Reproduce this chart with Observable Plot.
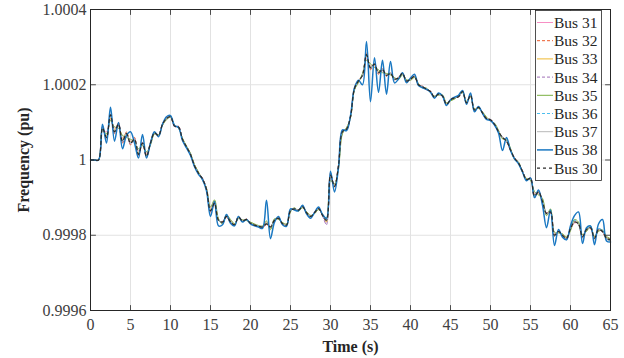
<!DOCTYPE html>
<html><head><meta charset="utf-8">
<script src="https://cdn.jsdelivr.net/npm/d3@7"></script>
<script src="https://cdn.jsdelivr.net/npm/@observablehq/plot@0.6"></script>
<style>body{margin:0;background:#fff}#chart{width:624px;height:358px}</style>
</head><body><div id="chart"></div>
<script>
// Series names, colours, dash styles (draw order: 31..38, then 30 on top)
const busNames = ["Bus 31","Bus 32","Bus 33","Bus 34","Bus 35","Bus 36","Bus 37","Bus 38","Bus 30"];
const busColors = ["#f78fc4","#ec5a2a","#efb830","#a070b8","#7ab040","#4dbeee","#b8b8b8","#1a78c2","#2a2a2a"];
const busDashes = [null,"3,2",null,"3,2",null,"3,2",null,null,"3,3"];
const busWidths = [1,1,1,1,1,1,1,1.5,1.2];

// Sample times (s)
const time = d3.range(0, 65.25, 0.5);

// Frequency deviation from 1 pu, in micro-pu (1e-6 pu), one value per sample time
const bus31 = [
0,0,0,80,75,110,85,90,60,65,
50,50,25,40,18,42,70,66,93,108,
114,92,86,57,36,17,-13,-33,-52,-76,
-128,-108,-158,-168,-148,-160,-170,-155,-160,-160,
-166,-171,-175,-176,-165,-182,-158,-157,-167,-171,
-137,-128,-135,-126,-138,-148,-142,-131,-145,-158,
-50,-66,-18,72,84,113,188,208,228,270,
250,250,236,236,228,228,217,216,228,212,
213,220,202,193,190,180,169,173,172,150,
158,163,170,180,154,170,135,138,127,112,
105,97,77,58,52,29,3,-6,-32,-50,
-52,-88,-90,-105,-145,-140,-195,-192,-198,-206,
-185,-168,-168,-200,-188,-178,-205,-188,-188,-205,
-210];
const bus32 = [
0,0,0,88,55,118,70,100,45,75,
40,60,12,48,8,47,73,64,96,111,
116,89,89,54,34,14,-16,-36,-49,-79,
-138,-118,-162,-163,-152,-166,-173,-150,-163,-157,
-169,-174,-177,-179,-172,-176,-162,-153,-170,-174,
-133,-131,-132,-123,-141,-151,-139,-128,-148,-162,
-35,-72,-12,78,80,117,192,212,222,285,
240,258,228,244,222,233,213,220,232,208,
216,223,199,196,187,183,166,176,169,147,
161,166,167,183,151,173,132,141,124,109,
108,94,74,61,49,26,6,-9,-29,-53,
-47,-100,-82,-114,-140,-136,-203,-188,-202,-210,
-180,-162,-172,-207,-183,-182,-210,-183,-192,-210,
-214];
const bus33 = [
0,0,0,82,65,112,80,92,55,72,
48,52,20,42,14,44,71,66,94,109,
114,91,87,56,36,16,-14,-34,-51,-77,
-132,-113,-159,-166,-149,-163,-171,-153,-161,-159,
-167,-172,-176,-177,-168,-180,-159,-156,-168,-172,
-136,-129,-134,-125,-139,-149,-141,-130,-146,-165,
-45,-68,-16,74,83,114,189,209,226,276,
248,252,234,238,226,229,216,217,229,211,
214,221,201,194,189,181,168,174,171,149,
159,164,169,181,153,171,134,139,126,111,
106,96,76,59,51,28,4,-7,-31,-51,
-50,-92,-87,-108,-143,-137,-198,-191,-199,-207,
-183,-166,-169,-203,-186,-179,-207,-186,-189,-207,
-211];
const bus34 = [
0,0,0,87,58,122,72,97,48,72,
42,57,12,47,8,47,74,67,97,112,
117,88,90,53,33,13,-17,-37,-48,-80,
-137,-117,-161,-164,-151,-165,-173,-151,-163,-157,
-169,-174,-177,-179,-171,-177,-161,-154,-170,-174,
-134,-131,-132,-123,-141,-151,-139,-128,-148,-172,
-38,-71,-14,76,81,116,191,211,224,282,
243,256,231,241,224,231,214,219,231,209,
216,223,199,196,187,183,166,176,169,147,
161,166,167,183,151,173,132,141,124,109,
108,94,74,61,49,26,6,-9,-29,-53,
-48,-96,-84,-112,-141,-139,-201,-189,-201,-209,
-181,-164,-171,-205,-184,-181,-209,-184,-191,-209,
-213];
const bus35 = [
0,0,0,78,70,105,88,85,65,60,
55,48,30,38,22,40,69,67,92,107,
113,93,85,58,37,18,-12,-32,-53,-75,
-125,-106,-156,-170,-146,-158,-169,-156,-159,-161,
-165,-170,-174,-175,-162,-185,-156,-158,-166,-170,
-138,-127,-136,-127,-137,-147,-143,-132,-144,-155,
-55,-63,-22,70,86,112,186,206,230,265,
255,246,240,232,230,226,219,214,226,214,
212,219,203,192,191,179,170,172,173,152,
157,162,171,179,156,168,136,137,128,114,
104,98,79,56,54,31,2,-5,-33,-49,
-54,-84,-93,-102,-148,-130,-192,-194,-196,-204,
-188,-158,-165,-198,-190,-176,-203,-190,-186,-203,
-209];
const bus36 = [
0,0,0,84,62,117,76,94,52,68,
46,54,17,44,12,44,72,65,95,110,
115,90,88,55,35,15,-15,-35,-50,-78,
-134,-114,-160,-166,-150,-163,-172,-152,-162,-158,
-168,-173,-176,-178,-169,-179,-160,-155,-169,-173,
-135,-130,-133,-124,-140,-150,-140,-129,-147,-161,
-42,-69,-15,75,82,115,190,210,225,279,
246,254,233,239,225,230,215,218,230,210,
215,222,200,195,188,182,167,175,170,148,
160,165,168,182,152,172,133,140,125,110,
107,95,75,60,50,27,5,-8,-30,-52,
-49,-94,-86,-110,-143,-137,-202,-189,-201,-212,
-180,-160,-172,-205,-184,-176,-210,-182,-187,-210,
-214];
const bus37 = [
0,0,0,86,57,121,73,96,49,71,
44,56,14,46,9,46,73,65,95,110,
115,90,88,55,35,15,-15,-35,-50,-78,
-136,-116,-160,-165,-150,-164,-172,-152,-162,-158,
-168,-173,-176,-178,-170,-178,-160,-155,-169,-173,
-135,-130,-133,-124,-140,-150,-140,-129,-147,-160,
-40,-70,-15,75,82,115,190,210,225,281,
244,256,231,241,224,231,215,218,230,210,
215,222,200,195,188,182,167,175,170,148,
160,165,168,182,152,172,133,140,125,110,
107,95,75,60,50,27,5,-8,-30,-52,
-49,-95,-85,-110,-142,-138,-200,-190,-200,-208,
-182,-165,-170,-204,-185,-180,-208,-185,-190,-208,
-212];
const bus38 = [
0,0,0,95,45,140,50,100,30,65,
75,45,5,68,5,45,75,62,95,115,
118,92,86,52,32,12,-18,-38,-52,-82,
-150,-110,-175,-172,-145,-168,-175,-150,-165,-158,
-170,-175,-178,-182,-107,-209,-165,-150,-172,-176,
-130,-133,-135,-120,-143,-155,-140,-125,-145,-155,
-30,-85,-20,80,78,118,192,212,200,315,
155,272,180,265,175,262,205,215,232,205,
218,228,198,192,188,180,164,178,170,145,
160,167,172,185,148,178,128,142,124,108,
105,93,72,25,60,25,3,-10,-32,-55,
-48,-100,-80,-120,-180,-133,-227,-185,-205,-212,
-175,-148,-138,-222,-180,-175,-225,-170,-158,-215,
-218];
const bus30 = [
0,0,0,85,60,120,75,95,50,70,
45,55,15,45,10,45,72,65,95,110,
115,90,88,55,35,15,-15,-35,-50,-78,
-135,-115,-160,-165,-150,-164,-172,-152,-162,-158,
-168,-173,-176,-178,-170,-178,-160,-155,-169,-173,
-135,-130,-133,-124,-140,-150,-140,-129,-147,-160,
-40,-70,-15,75,82,115,190,210,225,280,
245,255,232,240,225,230,215,218,230,210,
215,222,200,195,188,182,167,175,170,148,
160,165,168,182,152,172,133,140,125,110,
107,95,75,60,50,27,5,-8,-30,-52,
-49,-95,-85,-110,-142,-138,-200,-190,-200,-208,
-182,-165,-170,-204,-185,-180,-208,-185,-190,-208,
-212];

const xTicks = [0,5,10,15,20,25,30,35,40,45,50,55,60,65];
const yTicks = [0.9996,0.9998,1,1.0002,1.0004];
const yTickLabels = ["0.9996","0.9998","1","1.0002","1.0004"];
const xLabel = "Time (s)";
const yLabel = "Frequency (pu)";

const seriesValues = [bus31,bus32,bus33,bus34,bus35,bus36,bus37,bus38,bus30];
const series = busNames.map((name, k) => ({
  name, color: busColors[k], dash: busDashes[k], width: busWidths[k],
  rows: time.map((t, i) => ({t, f: 1 + seriesValues[k][i] / 1e6}))
}));

const serif = "Liberation Serif";
const axisColor = "#262626";
const tickShape = {draw(ctx, l) { ctx.moveTo(0, 0); ctx.lineTo(0, -l); }};
const tickOpts = {length: 5, anchor: "start", shape: tickShape, stroke: axisColor, strokeWidth: 0.8};

const chart = Plot.plot({
  width: 624, height: 358,
  marginLeft: 90, marginRight: 14, marginTop: 9, marginBottom: 48,
  style: {fontFamily: serif, fontSize: "16px", color: axisColor, background: "#fff"},
  x: {domain: [0, 65]},
  y: {domain: [0.9996, 1.0004]},
  marks: [
    Plot.gridX(xTicks, {stroke: "#e2e2e2", strokeOpacity: 1}),
    Plot.gridY(yTicks, {stroke: "#e2e2e2", strokeOpacity: 1}),
    ...series.map(s => Plot.line(s.rows, {
      x: "t", y: "f", stroke: s.color, strokeWidth: s.width,
      strokeDasharray: s.dash, curve: "catmull-rom"
    })),
    Plot.axisX({ticks: xTicks, tickSize: 0, tickPadding: 8, label: null, fontFamily: serif, fontSize: 16,
      fill: "#404040", tickFormat: d => String(d)}),
    Plot.axisY({ticks: yTicks, tickSize: 0, tickPadding: 4, label: null, fontFamily: serif, fontSize: 16,
      fill: "#404040", tickFormat: d => yTickLabels[yTicks.findIndex(v => Math.abs(v - d) < 1e-9)]}),
    Plot.vector(xTicks, {x: d => d, frameAnchor: "bottom", rotate: 0, ...tickOpts}),
    Plot.vector(xTicks, {x: d => d, frameAnchor: "top", rotate: 180, ...tickOpts}),
    Plot.vector(yTicks, {y: d => d, frameAnchor: "left", rotate: 90, ...tickOpts}),
    Plot.vector(yTicks, {y: d => d, frameAnchor: "right", rotate: -90, ...tickOpts}),
    Plot.frame({stroke: axisColor, strokeWidth: 1}),
    Plot.text([xLabel], {frameAnchor: "bottom", dy: 36, lineAnchor: "middle", textAnchor: "middle",
      fontFamily: serif, fontWeight: "bold", fontSize: 16, fill: axisColor}),
    Plot.text([yLabel], {frameAnchor: "left", dx: -67, rotate: -90, lineAnchor: "middle", textAnchor: "middle",
      fontFamily: serif, fontWeight: "bold", fontSize: 16, fill: axisColor})
  ]
});
document.getElementById("chart").appendChild(chart);

// Legend box (top-right, inside the axes)
const svg = d3.select(chart);
const lg = svg.append("g").attr("font-family", serif).attr("font-size", 15.5).attr("text-anchor", "start");
lg.append("rect").attr("x", 535.5).attr("y", 10.5).attr("width", 66).attr("height", 170)
  .attr("fill", "#fff").attr("stroke", axisColor).attr("stroke-width", 0.8);
series.forEach((s, i) => {
  const y = 22.5 + i * 18.2;
  const ln = lg.append("line").attr("x1", 537).attr("x2", 553).attr("y1", y).attr("y2", y)
    .attr("stroke", s.color).attr("stroke-width", s.width);
  if (s.dash) ln.attr("stroke-dasharray", s.dash);
  lg.append("text").attr("x", 554).attr("y", y).attr("dy", "0.35em")
    .attr("text-anchor", "start").attr("fill", axisColor).text(s.name);
});
</script>
</body></html>
